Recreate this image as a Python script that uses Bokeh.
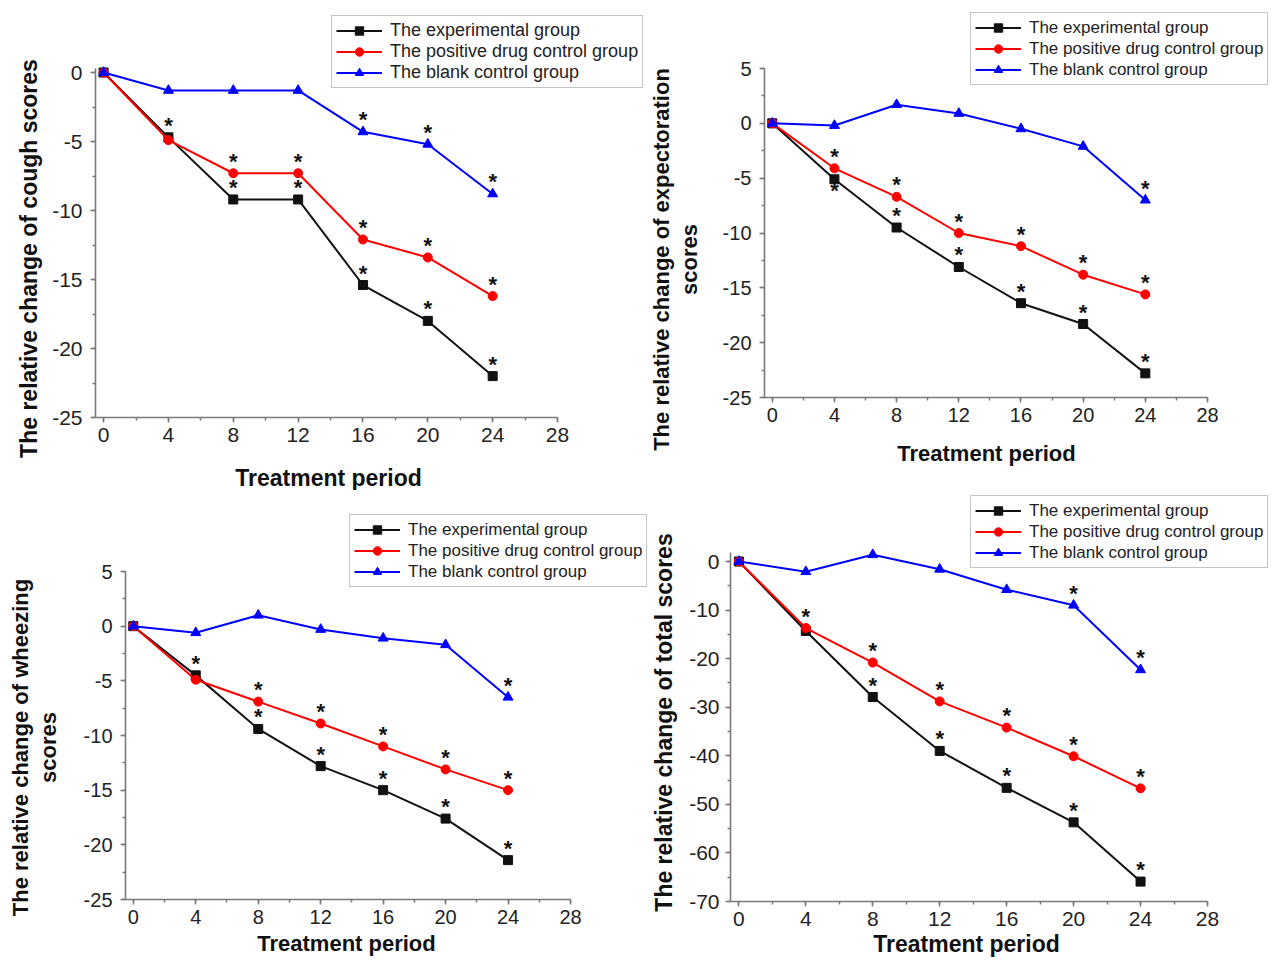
import math
from bokeh.plotting import figure
from bokeh.layouts import column, row
from bokeh.models import (SingleIntervalTicker, Legend, LegendItem, ColumnDataSource,
                          PrintfTickFormatter)
from bokeh.embed import file_html
from bokeh.resources import INLINE
from bokeh.core.properties import value

# ---------------- data ----------------
weeks = [0, 4, 8, 12, 16, 20, 24]
group_names = ["The experimental group",
               "The positive drug control group",
               "The blank control group"]

cough_exp = [0, -4.7, -9.2, -9.2, -15.4, -18.0, -22.0]
cough_pos = [0, -4.9, -7.3, -7.3, -12.1, -13.4, -16.2]
cough_blank = [0, -1.3, -1.3, -1.3, -4.3, -5.2, -8.8]

expec_exp = [0, -5.1, -9.5, -13.1, -16.4, -18.3, -22.8]
expec_pos = [0, -4.1, -6.7, -10.0, -11.2, -13.8, -15.6]
expec_blank = [0, -0.2, 1.7, 0.9, -0.5, -2.1, -7.0]

wheeze_exp = [0, -4.5, -9.4, -12.8, -15.0, -17.6, -21.4]
wheeze_pos = [0, -4.9, -6.9, -8.9, -11.0, -13.1, -15.0]
wheeze_blank = [0, -0.6, 1.0, -0.3, -1.1, -1.7, -6.5]

total_exp = [0, -14.3, -27.9, -39.0, -46.6, -53.7, -65.9]
total_pos = [0, -13.7, -20.8, -28.8, -34.2, -40.1, -46.7]
total_blank = [0, -2.1, 1.4, -1.6, -5.8, -9.0, -22.3]

# significance marks "*": 1 = above the point, -1 = below, 0 = none
cough_sig = [[0, 1, 1, 1, 1, 1, 1], [0, 0, 1, 1, 1, 1, 1], [0, 0, 0, 0, 1, 1, 1]]
expec_sig = [[0, -1, 1, 1, 1, 1, 1], [0, 1, 1, 1, 1, 1, 1], [0, 0, 0, 0, 0, 0, 1]]
wheeze_sig = [[0, 1, 1, 1, 1, 1, 1], [0, 0, 1, 1, 1, 1, 1], [0, 0, 0, 0, 0, 0, 1]]
total_sig = [[0, 0, 1, 1, 1, 1, 1], [0, 1, 1, 1, 1, 1, 1], [0, 0, 0, 0, 0, 1, 1]]

x_title = "Treatment period"
y_titles = ["The relative change of cough scores",
            "The relative change of expectoration\nscores",
            "The relative change of wheezing\nscores",
            "The relative change of total scores"]

# ---------------- styling ----------------
FONT = "Liberation Sans"
colors = ["#111111", "#ff0000", "#0000ff"]
markers = ["square", "circle", "triangle"]
msizes = [9, 9, 10]
AXIS_COL = "#7a7a7a"


def make_panel(series, sig, ytitle, page_left, page_top, W, H,
               xmap, ymap, ybounds, yint, tick_fs, title_fs,
               ytitle_pos, xtitle_pos, leg_box, leg_fs, lab_so):
    # layout helpers: page pixel -> figure pixel -> data
    fxp = lambda X: X - page_left
    fyp = lambda Y: Y - page_top
    (xa, pxa), (xb, pxb) = xmap
    (ya, pya), (yb, pyb) = ymap
    pxa, pxb, pya, pyb = fxp(pxa), fxp(pxb), fyp(pya), fyp(pyb)
    dx = lambda px: xa + (px - pxa) * (xb - xa) / (pxb - pxa)
    dy = lambda py: ya + (py - pya) * (yb - ya) / (pyb - pya)

    p = figure(width=W, height=H, x_range=(dx(0), dx(W)), y_range=(dy(H), dy(0)),
               output_backend="svg", toolbar_location=None, title=None,
               min_border=0, min_border_left=0, min_border_right=0,
               min_border_top=0, min_border_bottom=0)
    p.xgrid.visible = False
    p.ygrid.visible = False
    p.outline_line_color = None
    p.background_fill_color = "white"
    p.border_fill_color = "white"
    p.xaxis.ticker = SingleIntervalTicker(interval=4, num_minor_ticks=2)
    p.yaxis.ticker = SingleIntervalTicker(interval=yint, num_minor_ticks=2)
    p.xaxis.formatter = PrintfTickFormatter(format="%d")
    p.yaxis.formatter = PrintfTickFormatter(format="%d")
    p.xaxis.bounds = (-0.5, 28)
    p.yaxis.bounds = ybounds
    p.xaxis.fixed_location = ybounds[0]
    p.yaxis.fixed_location = -0.5
    for ax in (p.xaxis[0], p.yaxis[0]):
        ax.axis_line_color = AXIS_COL
        ax.axis_line_width = 1.6
        ax.major_tick_line_color = AXIS_COL
        ax.major_tick_line_width = 1.5
        ax.minor_tick_line_color = AXIS_COL
        ax.minor_tick_line_width = 1.5
        ax.major_tick_out = 5
        ax.major_tick_in = 0
        ax.minor_tick_out = 3
        ax.minor_tick_in = 0
        ax.major_label_text_font = FONT
        ax.major_label_text_font_size = f"{tick_fs}px"
        ax.major_label_text_color = "#222222"
    p.xaxis.major_label_standoff = 5
    p.yaxis.major_label_standoff = lab_so

    items = []
    for i, vals in enumerate(series):
        src = ColumnDataSource(dict(x=weeks, y=vals))
        lr = p.line("x", "y", source=src, line_color=colors[i], line_width=2)
        sr = p.scatter("x", "y", source=src, marker=markers[i], size=msizes[i],
                       fill_color=colors[i], line_color=colors[i])
        items.append(LegendItem(label=group_names[i], renderers=[lr, sr]))

    for i, vals in enumerate(series):
        for flag, off in ((1, -12), (-1, 11)):
            xs = [w for w, s in zip(weeks, sig[i]) if s == flag]
            ys = [v for v, s in zip(vals, sig[i]) if s == flag]
            if xs:
                p.text(x=xs, y=ys, text=["*"] * len(xs), text_font=value(FONT),
                       text_font_style="bold", text_font_size="22px",
                       text_align="center", text_baseline="middle",
                       y_offset=off, text_color="#111111")

    # axis titles
    tx, ty = ytitle_pos
    p.text(x=[dx(fxp(tx))], y=[dy(fyp(ty))], text=[ytitle], angle=math.pi / 2,
           text_font=value(FONT), text_font_style="bold",
           text_font_size=f"{title_fs}px", text_align="center",
           text_baseline="middle", text_color="#111111", text_line_height=1.15)
    tx, ty = xtitle_pos
    p.text(x=[dx(fxp(tx))], y=[dy(fyp(ty))], text=[x_title],
           text_font=value(FONT), text_font_style="bold",
           text_font_size=f"{title_fs}px", text_align="center",
           text_baseline="middle", text_color="#111111")

    bx, bb = leg_box
    leg = Legend(items=items, location=(fxp(bx), H - fyp(bb)),
                 label_text_font=FONT, label_text_font_size=f"{leg_fs}px",
                 label_text_color="#222222",
                 border_line_color="#8a8a8a", border_line_width=1.6,
                 background_fill_color="white", background_fill_alpha=1.0,
                 padding=4, spacing=0, margin=0,
                 glyph_width=46, glyph_height=21, label_height=21,
                 label_standoff=8)
    p.add_layout(leg)
    return p


H1, H2 = 490, 467
p1 = make_panel([cough_exp, cough_pos, cough_blank], cough_sig, y_titles[0],
                0, 0, 646, H1,
                ((-0.5, 95), (28, 557)), ((0, 72), (-25, 417)), (-25, 0.3), 5,
                21, 23, (28, 258), (328, 477), (331, 88), 18, 8)
p2 = make_panel([expec_exp, expec_pos, expec_blank], expec_sig, y_titles[1],
                646, 0, 624, H1,
                ((-0.5, 764), (28, 1207)), ((5, 68), (-25, 397)), (-25, 5), 5,
                20, 22, (675, 259), (986, 453), (970, 85), 17, 8)
p3 = make_panel([wheeze_exp, wheeze_pos, wheeze_blank], wheeze_sig, y_titles[2],
                0, H1, 651, H2,
                ((-0.5, 125), (28, 570)), ((5, 571), (-25, 899)), (-25, 5), 5,
                20, 22, (34, 747), (346, 943), (349, 587), 17, 8)
p4 = make_panel([total_exp, total_pos, total_blank], total_sig, y_titles[3],
                651, H1, 619, H2,
                ((-0.5, 730), (28, 1207)), ((0, 561), (-70, 901)), (-70, 1.9), 10,
                21, 23, (663, 722), (966, 943), (970, 568), 17, 6)

layout = column(row(p1, p2), row(p3, p4))
open("out.html", "w").write(file_html(layout, INLINE))
